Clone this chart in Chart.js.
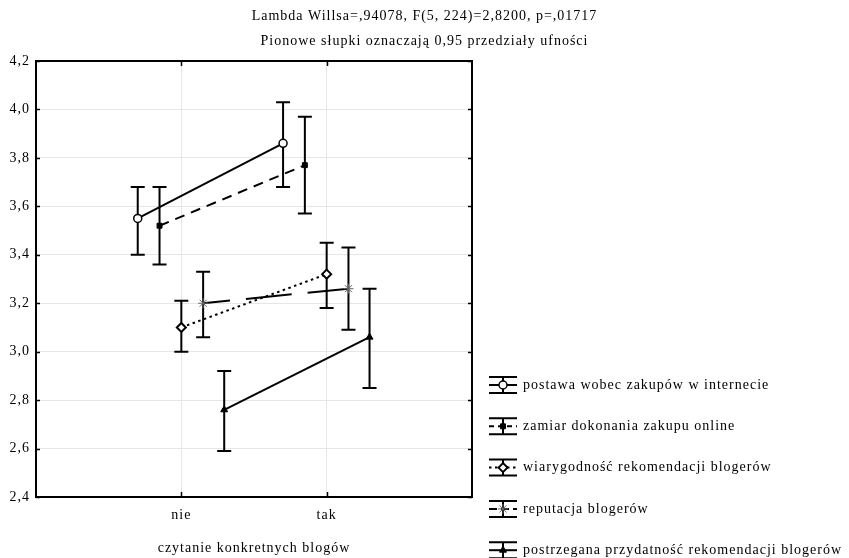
<!DOCTYPE html>
<html><head><meta charset="utf-8">
<script src="https://cdn.jsdelivr.net/npm/chart.js@4/dist/chart.umd.min.js"></script>
<style>html,body{margin:0;padding:0;background:#fff}#wrap{width:849px;height:558px}</style>
</head><body><div id="wrap"><canvas id="c" width="849" height="558"></canvas></div>
<script>
// ---- data ----
const categories = ['nie', 'tak'];
const seriesNames = [
  'postawa wobec zakupów w internecie',
  'zamiar dokonania zakupu online',
  'wiarygodność rekomendacji blogerów',
  'reputacja blogerów',
  'postrzegana przydatność rekomendacji blogerów'
];
const postawaMean = [3.55, 3.86];
const postawaLow  = [3.40, 3.68];
const postawaHigh = [3.68, 4.03];
const zamiarMean = [3.52, 3.77];
const zamiarLow  = [3.36, 3.57];
const zamiarHigh = [3.68, 3.97];
const wiarygodnoscMean = [3.10, 3.32];
const wiarygodnoscLow  = [3.00, 3.18];
const wiarygodnoscHigh = [3.21, 3.45];
const reputacjaMean = [3.20, 3.26];
const reputacjaLow  = [3.06, 3.09];
const reputacjaHigh = [3.33, 3.43];
const przydatnoscMean = [2.76, 3.06];
const przydatnoscLow  = [2.59, 2.85];
const przydatnoscHigh = [2.92, 3.26];
const yTickLabels = ['2,4','2,6','2,8','3,0','3,2','3,4','3,6','3,8','4,0','4,2'];
const titleText = 'Lambda Willsa=,94078, F(5, 224)=2,8200, p=,01717';
const subtitleText = 'Pionowe słupki oznaczają 0,95 przedziały ufności';
const xAxisTitle = 'czytanie konkretnych blogów';

// ---- styling (not data) ----
const FONT = "'Liberation Serif', 'Times New Roman', serif";
const seriesOffset = [-0.30, -0.15, 0, 0.15, 0.295];
const styles = [
  {pointStyle:'circle',  radius:4,   bg:'#fff', border:'#000', bw:1.5, dash:[]},
  {pointStyle:'rect',    radius:3.5, bg:'#000', border:'#000', bw:1,   dash:[10,7]},
  {pointStyle:'rectRot', radius:4.5, bg:'#fff', border:'#000', bw:2,   dash:[2.5,3.5]},
  {pointStyle:'star',    radius:5,   bg:'#666', border:'#666', bw:1,   dash:[46,16], dashOffset:19},
  {pointStyle:'triangle',radius:4,   bg:'#000', border:'#000', bw:1,   dash:[]}
];
const means = [postawaMean, zamiarMean, wiarygodnoscMean, reputacjaMean, przydatnoscMean];
const lows  = [postawaLow, zamiarLow, wiarygodnoscLow, reputacjaLow, przydatnoscLow];
const highs = [postawaHigh, zamiarHigh, wiarygodnoscHigh, reputacjaHigh, przydatnoscHigh];

const datasets = seriesNames.map((name, i) => ({
  label: name,
  data: categories.map((c, j) => ({x: j + seriesOffset[i], y: means[i][j]})),
  lower: lows[i],
  upper: highs[i],
  borderColor: '#000',
  borderWidth: 2,
  borderDash: styles[i].dash,
  borderDashOffset: styles[i].dashOffset || 0,
  pointStyle: styles[i].pointStyle,
  pointRadius: styles[i].radius,
  pointBackgroundColor: styles[i].bg,
  pointBorderColor: styles[i].border,
  pointBorderWidth: styles[i].bw,
  fill: false,
  tension: 0
}));

const spacing = {
  id: 'spacing',
  beforeLayout(chart){ chart.ctx.letterSpacing = '1px'; },
  beforeDraw(chart){ chart.ctx.letterSpacing = '1px'; }
};

const errorBars = {
  id: 'errorBars',
  beforeDatasetsDraw(chart){
    const {ctx, scales:{x, y}} = chart;
    ctx.save();
    ctx.strokeStyle = '#000';
    ctx.lineWidth = 2;
    chart.data.datasets.forEach(ds => {
      ds.data.forEach((p, j) => {
        const px = x.getPixelForValue(p.x);
        const yl = y.getPixelForValue(ds.lower[j]);
        const yh = y.getPixelForValue(ds.upper[j]);
        ctx.beginPath();
        ctx.moveTo(px, yl); ctx.lineTo(px, yh);
        ctx.moveTo(px - 7, yl); ctx.lineTo(px + 7, yl);
        ctx.moveTo(px - 7, yh); ctx.lineTo(px + 7, yh);
        ctx.stroke();
      });
    });
    ctx.restore();
  }
};

const frame = {
  id: 'frame',
  afterDraw(chart){
    const {ctx, chartArea:a, scales:{x, y}} = chart;
    ctx.save();
    ctx.strokeStyle = '#000';
    ctx.lineWidth = 2;
    ctx.strokeRect(a.left, a.top, a.right - a.left, a.bottom - a.top);
    ctx.lineWidth = 1.5;
    ctx.beginPath();
    y.ticks.forEach(t => {
      const py = Math.round(y.getPixelForValue(t.value)) + 0.5;
      ctx.moveTo(a.left, py); ctx.lineTo(a.left + 4, py);
      ctx.moveTo(a.right, py); ctx.lineTo(a.right - 4, py);
    });
    x.ticks.forEach(t => {
      const px = Math.round(x.getPixelForValue(t.value)) + 0.5;
      ctx.moveTo(px, a.top); ctx.lineTo(px, a.top + 5);
      ctx.moveTo(px, a.bottom); ctx.lineTo(px, a.bottom - 5);
    });
    ctx.stroke();
    ctx.restore();
  }
};

const customLegend = {
  id: 'customLegend',
  afterDraw(chart){
    const {ctx, chartArea:a} = chart;
    const x0 = a.right + 17, w = 28, cx = x0 + w / 2;
    const yStart = 385, step = 41.3;
    ctx.save();
    chart.data.datasets.forEach((ds, i) => {
      const yc = yStart + i * step;
      ctx.strokeStyle = '#000';
      ctx.lineWidth = 2;
      ctx.setLineDash([]);
      ctx.beginPath();
      ctx.moveTo(x0, yc - 8); ctx.lineTo(x0 + w, yc - 8);
      ctx.moveTo(x0, yc + 8); ctx.lineTo(x0 + w, yc + 8);
      ctx.moveTo(cx, yc - 8); ctx.lineTo(cx, yc + 8);
      ctx.stroke();
      ctx.setLineDash(i === 3 ? [8, 4] : (i === 1 ? [5, 4] : ds.borderDash));
      ctx.beginPath();
      ctx.moveTo(x0, yc); ctx.lineTo(x0 + w, yc);
      ctx.stroke();
      ctx.setLineDash([]);
      ctx.fillStyle = ds.pointBackgroundColor;
      ctx.strokeStyle = ds.pointBorderColor;
      ctx.lineWidth = ds.pointBorderWidth;
      Chart.helpers.drawPoint(ctx, {pointStyle: ds.pointStyle, radius: ds.pointRadius, rotation: 0, borderWidth: ds.pointBorderWidth}, cx, yc);
      ctx.fillStyle = '#000';
      ctx.font = '14px ' + FONT;
      ctx.textBaseline = 'middle';
      ctx.textAlign = 'left';
      ctx.fillText(ds.label, x0 + w + 6, yc);
    });
    ctx.restore();
  }
};

Chart.defaults.font.family = FONT;
Chart.defaults.color = '#000';

new Chart(document.getElementById('c'), {
  type: 'line',
  data: {datasets},
  plugins: [spacing, errorBars, frame, customLegend],
  options: {
    responsive: false,
    animation: false,
    layout: {padding: 0},
    plugins: {
      legend: {display: false},
      tooltip: {enabled: false},
      title: {display: true, text: titleText, font: {size: 14, weight: 'normal'}, padding: {top: 8, bottom: 0}, color: '#000'},
      subtitle: {display: true, text: subtitleText, font: {size: 14, weight: 'normal'}, padding: {top: 8, bottom: 11.4}, color: '#000'}
    },
    scales: {
      x: {
        type: 'linear', min: -1, max: 2,
        afterBuildTicks: s => { s.ticks = categories.map((c, i) => ({value: i})); },
        afterFit: s => { s.height = 61; },
        ticks: {callback: v => categories[v], font: {size: 14}, padding: 10, color: '#000'},
        grid: {color: '#e6e6e6', lineWidth: 1, drawTicks: false},
        border: {display: true, color: '#000', width: 2},
        title: {display: true, text: xAxisTitle, font: {size: 14}, padding: {top: 0, bottom: 1}, color: '#000'}
      },
      y: {
        min: 2.4, max: 4.2,
        afterBuildTicks: s => { s.ticks = yTickLabels.map((l, i) => ({value: 2.4 + i * 0.2})); },
        afterFit: s => { s.width = 36; },
        ticks: {callback: (v, i) => yTickLabels[i], font: {size: 14}, padding: 6, color: '#000'},
        grid: {color: '#e6e6e6', lineWidth: 1, drawTicks: false},
        border: {display: true, color: '#000', width: 2}
      },
      legendSpace: {
        type: 'linear', position: 'right', display: true,
        afterFit: s => { s.width = 377; },
        ticks: {display: false},
        grid: {display: false, drawTicks: false},
        border: {display: false}
      }
    }
  }
});
</script>
</body></html>
